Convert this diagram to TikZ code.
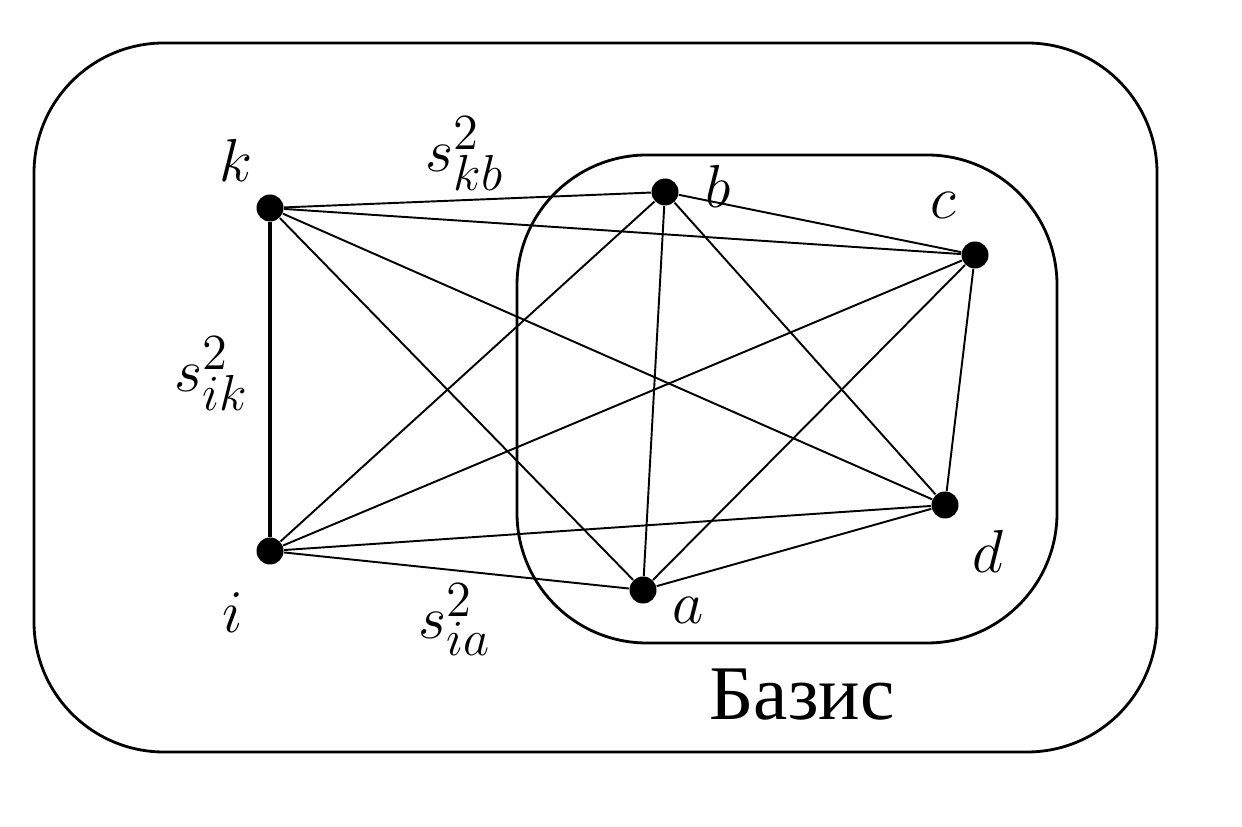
\documentclass[tikz,border=0pt]{standalone}
\usepackage{fontspec}
\newfontfamily\cyrfont{Liberation Serif}
\usepackage{tikz}
\usetikzlibrary{positioning}
\tikzset{
  grframe/.style={draw=black, rounded corners=1.3cm, line width=0.8pt},
  grvertex/.style={circle, fill=black, inner sep=0pt, minimum size=0.27cm},
  grline/.style={line width=0.55pt},
  grthick/.style={line width=1.2pt},
  grlabel/.style={inner sep=1pt, font=\fontsize{19}{22}\selectfont}
}
\begin{document}
\begin{tikzpicture}
  \useasboundingbox (0,0) rectangle (12.42,8.26);

  % outer set and basis
  \draw[grframe] (0.34,0.74) rectangle (11.57,7.83);
  \draw[grframe] (5.17,1.83) rectangle (10.57,6.71);

  \node[grvertex] (k) at (2.70,6.18) {};
  \node[grvertex] (b) at (6.65,6.34) {};
  \node[grvertex] (c) at (9.75,5.71) {};
  \node[grvertex] (d) at (9.45,3.21) {};
  \node[grvertex] (a) at (6.43,2.36) {};
  \node[grvertex] (i) at (2.70,2.75) {};

  \draw[grthick] (k) -- (i);
  \foreach \u/\v in {k/b,k/c,k/d,k/a,i/b,i/c,i/d,i/a,b/c,b/d,b/a,c/d,c/a,d/a}
    \draw[grline] (\u) -- (\v);

  \node[grlabel] (klab) at (2.36,6.66) {$k$};
  \node[grlabel] (blab) at (7.18,6.40) {$b$};
  \node[grlabel] (clab) at (9.43,6.21) {$c$};
  \node[grlabel] (dlab) at (9.88,2.75) {$d$};
  \node[grlabel] (alab) at (6.88,2.16) {$a$};
  \node[grlabel] (ilab) at (2.33,2.13) {$i$};

  \node[grlabel] (skb) at (4.65,6.72) {$s^2_{kb}$};
  \node[grlabel] (sik) at (2.12,4.52) {$s^2_{ik}$};
  \node[grlabel] (sia) at (4.55,2.06) {$s^2_{ia}$};

  \node[grlabel, font=\cyrfont\fontsize{22}{26}\selectfont] (basis) at (8.02,1.31) {Базис};
\end{tikzpicture}
\end{document}
